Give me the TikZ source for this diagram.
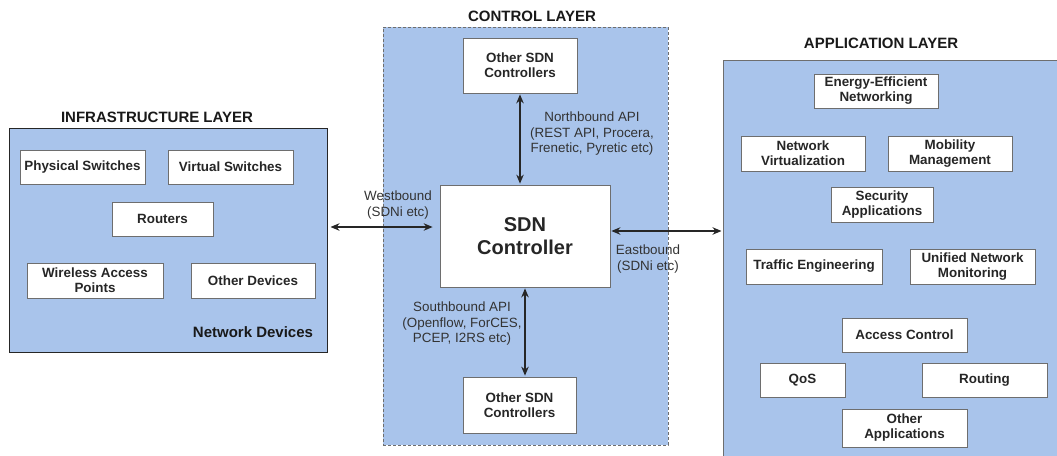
\documentclass[tikz,border=0pt]{standalone}
\usepackage{fontspec}
\setmainfont{Liberation Sans}
\usetikzlibrary{arrows.meta}
\definecolor{layerblue}{HTML}{A9C4EB}
\definecolor{boxline}{HTML}{6E6E6E}
\definecolor{labeltext}{HTML}{333333}
\tikzset{
  layer/.style={draw=#1, fill=layerblue, line width=1pt, inner sep=0pt},
  item/.style={draw=boxline, fill=white, line width=0.8pt, align=center,
    font=\fontsize{13.4}{15}\selectfont\bfseries, text=black!85, inner sep=0pt},
  title/.style={font=\fontsize{15}{17}\selectfont\bfseries, text=black!90},
  apilabel/.style={align=center, font=\fontsize{13.4}{15.5}\selectfont, text=labeltext},
  biarrow/.style={{Stealth[length=9pt,width=7.5pt]}-{Stealth[length=9pt,width=7.5pt]},
    line width=1.2pt, draw=black!85},
}
\begin{document}
\begin{tikzpicture}[x=1pt,y=-1pt]
\useasboundingbox (0,0) rectangle (1057,455);

% layer frames
\node[layer=black!85, minimum width=318pt, minimum height=224pt] (infra) at (168,240) {};
\node[layer=boxline, dash pattern=on 3pt off 2pt, minimum width=285pt, minimum height=418pt] (ctrl) at (525.5,236) {};
\node[layer=boxline, minimum width=345pt, minimum height=410pt] (app) at (895.5,265) {};

% layer titles
\node[title] (tinfra) at (157,117) {INFRASTRUCTURE LAYER};
\node[title] (tctrl) at (532,16) {CONTROL LAYER};
\node[title] (tapp) at (881,43) {APPLICATION LAYER};

% infrastructure layer devices
\node[item, minimum width=125pt, minimum height=34pt] (phys) at (82.5,167) {Physical Switches};
\node[item, minimum width=125pt, minimum height=34pt] (virt) at (230.5,167) {Virtual Switches};
\node[item, minimum width=101pt, minimum height=34pt] (rout) at (162.5,219) {Routers};
\node[item, minimum width=136pt, minimum height=35pt] (wap) at (95,280.5) {Wireless Access\\Points};
\node[item, minimum width=124pt, minimum height=35pt] (odev) at (253,280.5) {Other Devices};
\node[font=\fontsize{15}{17}\selectfont\bfseries, text=black!90] (netdev) at (253,332) {Network Devices};

% control layer
\node[item, minimum width=114pt, minimum height=55pt] (osctop) at (520,65.5) {Other SDN\\Controllers};
\node[item, minimum width=170pt, minimum height=102pt,
  font=\fontsize{20}{23}\selectfont\bfseries] (sdn) at (525,236) {SDN\\Controller};
\node[item, minimum width=113pt, minimum height=56pt] (oscbot) at (519.5,405) {Other SDN\\Controllers};

% application layer
\node[item, minimum width=124pt, minimum height=34pt] (energy) at (876,91) {Energy-Efficient\\Networking};
\node[item, minimum width=124pt, minimum height=35pt] (netvirt) at (803,153.5) {Network\\Virtualization};
\node[item, minimum width=124pt, minimum height=35pt] (mobil) at (950,153.5) {Mobility\\Management};
\node[item, minimum width=102pt, minimum height=35pt] (secur) at (882,204.5) {Security\\Applications};
\node[item, minimum width=136pt, minimum height=35pt] (traffic) at (814,266.5) {Traffic Engineering};
\node[item, minimum width=125pt, minimum height=35pt] (unified) at (972.5,266.5) {Unified Network\\Monitoring};
\node[item, minimum width=125pt, minimum height=34pt] (access) at (904.5,335) {Access Control};
\node[item, minimum width=85pt, minimum height=34pt] (qos) at (802.5,380) {QoS};
\node[item, minimum width=125pt, minimum height=34pt] (routing) at (984.5,380) {Routing};
\node[item, minimum width=125pt, minimum height=38pt] (otherapp) at (904.5,428) {Other\\Applications};

% interfaces
\coordinate (wy) at (0,227);
\coordinate (ey) at (0,231);
\draw[biarrow, shorten <=3pt, shorten >=7pt] (infra.east |- wy) -- (sdn.west |- wy);
\draw[biarrow, shorten <=1pt, shorten >=1pt] (sdn.east |- ey) -- (app.west |- ey);
\draw[biarrow, shorten <=1pt, shorten >=1pt] (osctop.south) -- (osctop.south |- sdn.north);
\draw[biarrow, shorten <=1pt, shorten >=1pt] (sdn.south) -- (sdn.south |- oscbot.north);

% interface labels
\node[apilabel] (north) at (592,134) {Northbound API\\(REST API, Procera,\\Frenetic, Pyretic etc)};
\node[apilabel] (south) at (462,324) {Southbound API\\(Openflow, ForCES,\\PCEP, I2RS etc)};
\node[apilabel] (west) at (398,205) {Westbound\\(SDNi etc)};
\node[apilabel] (east) at (648,259) {Eastbound\\(SDNi etc)};
\end{tikzpicture}
\end{document}
